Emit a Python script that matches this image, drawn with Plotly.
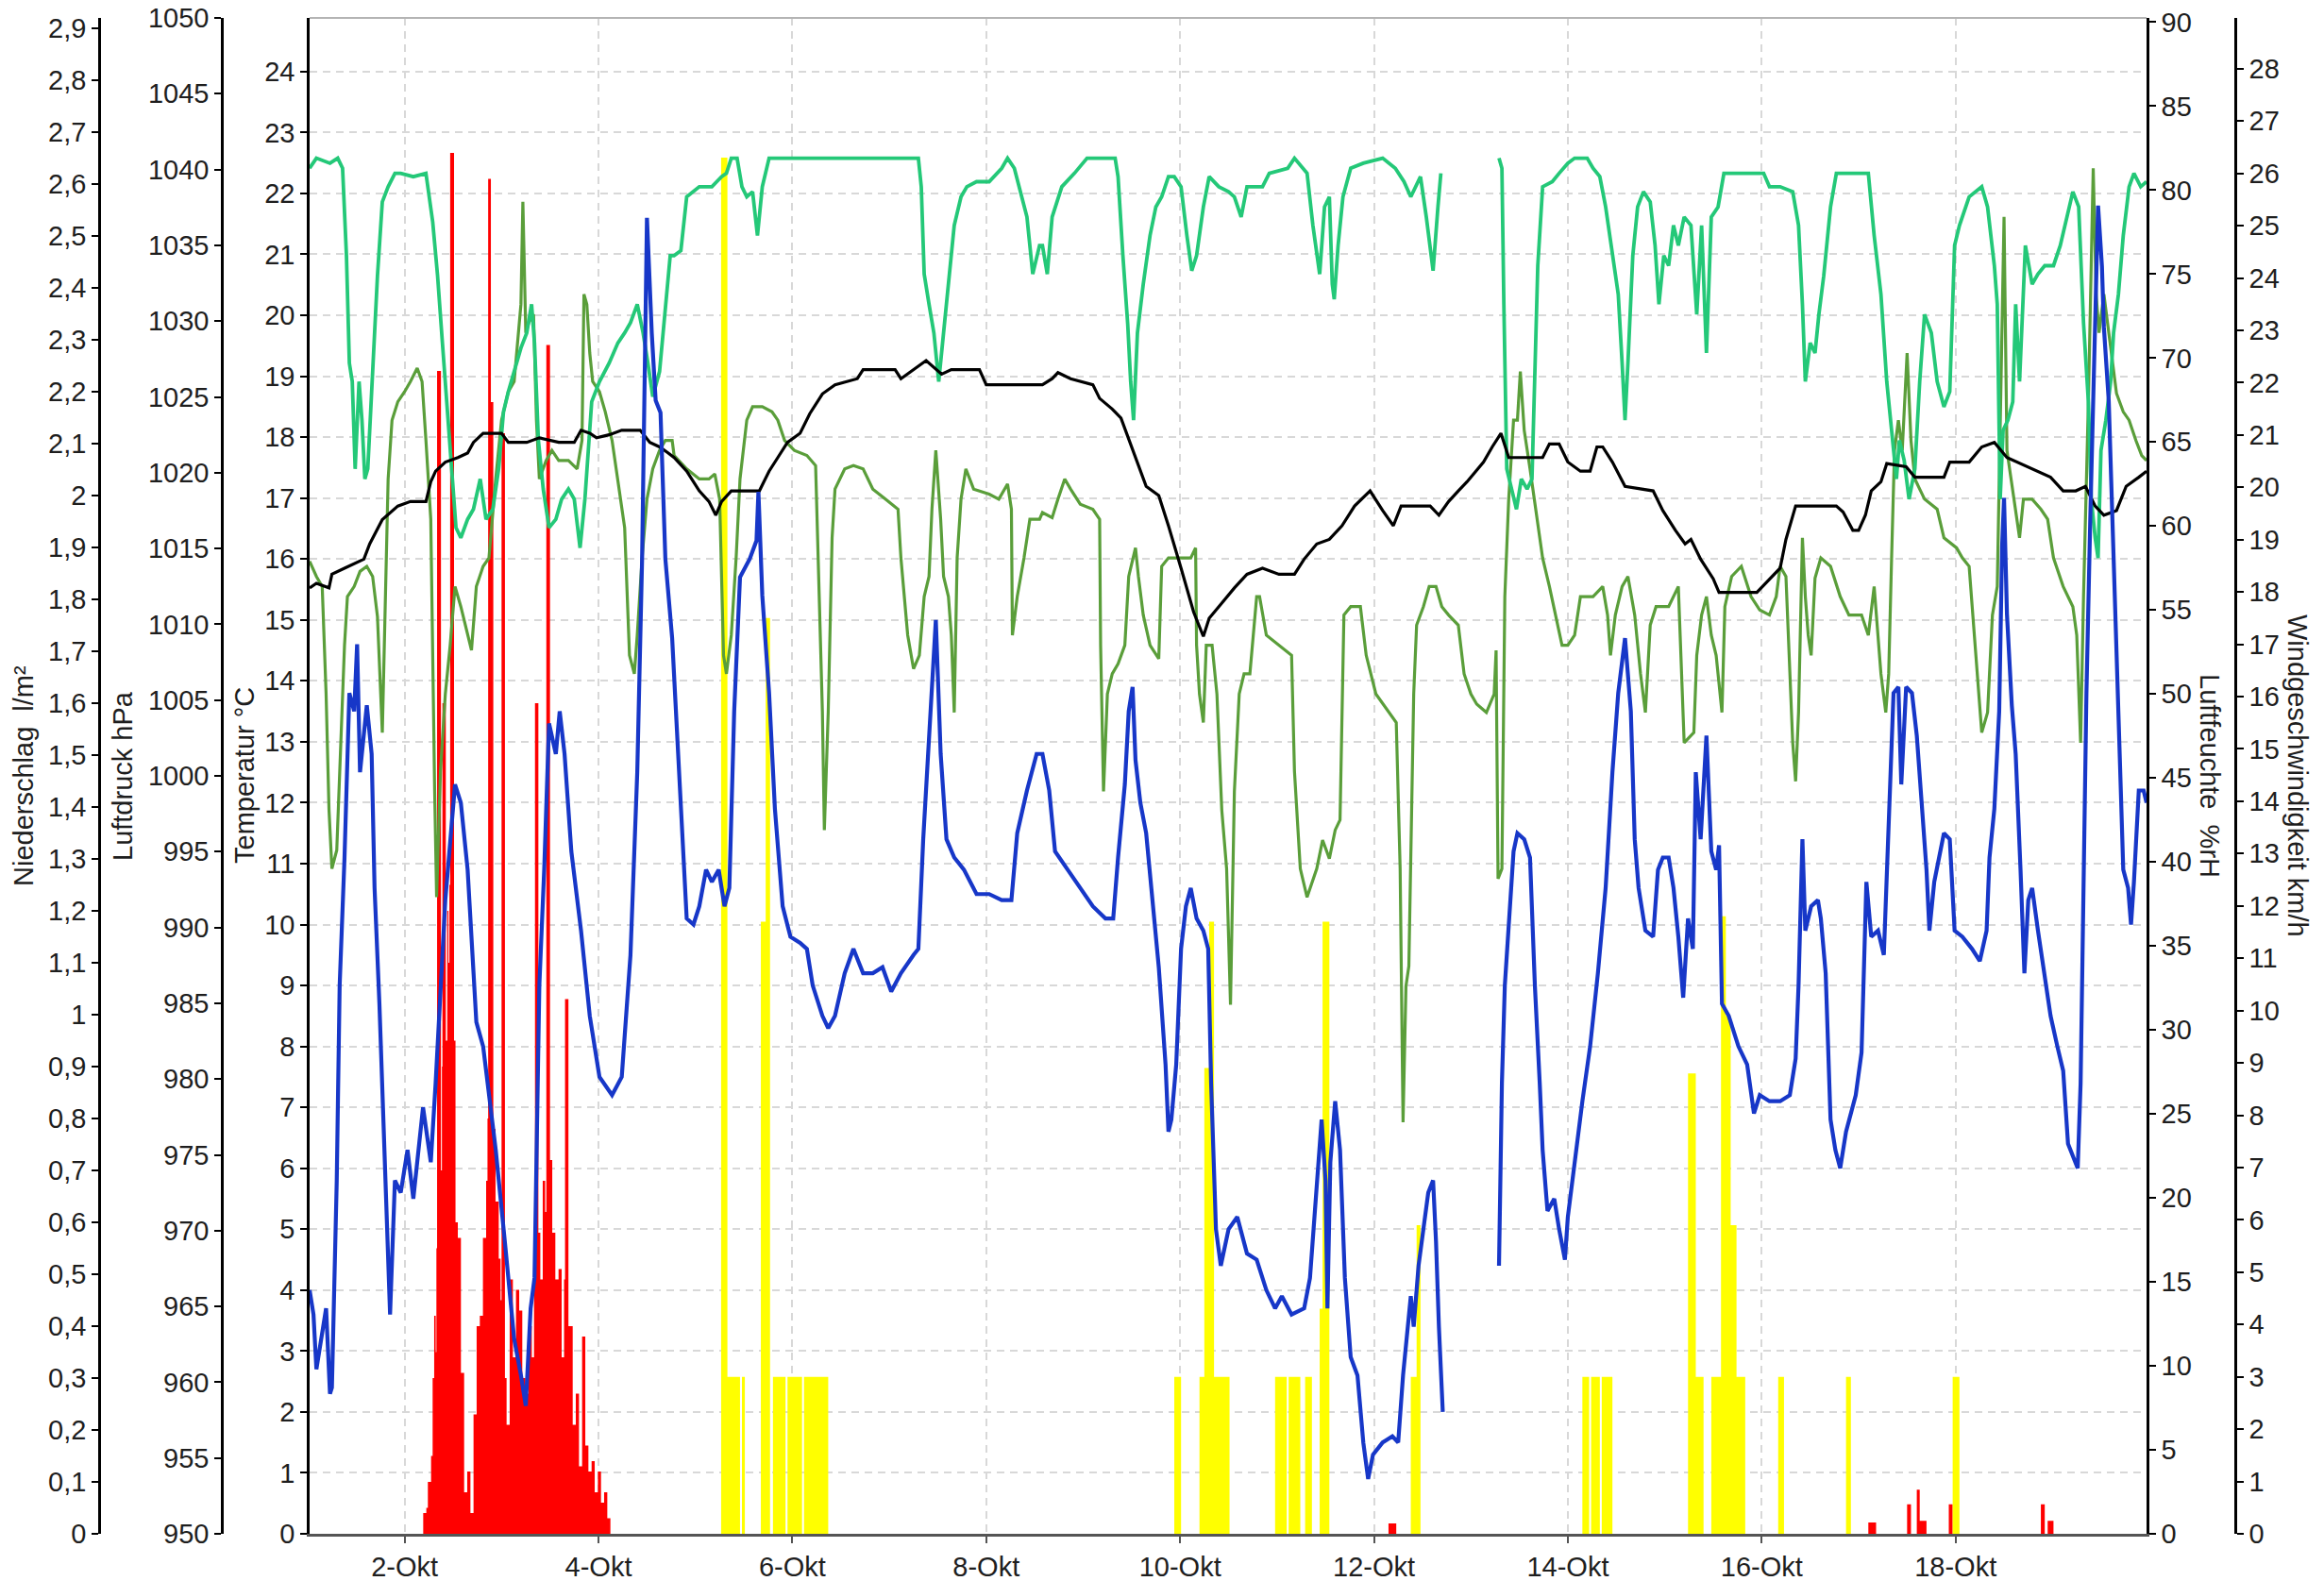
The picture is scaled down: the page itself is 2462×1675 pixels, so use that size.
import plotly.graph_objects as go
from datetime import datetime, timedelta

# ---------------- data (time = day of October, fractional) ----------------
temp_day = [1.02,1.06,1.09,1.19,1.23,1.25,1.30,1.33,1.38,1.43,1.48,1.51,1.54,1.61,1.66,1.69,1.74,1.79,1.85,1.90,1.96,
            2.03,2.09,2.19,2.27,2.32,2.42,2.52,2.58,2.65,2.74,2.81,2.87,2.94,3.04,3.13,3.20,3.25,3.30,3.34,3.39,3.44,
            3.49,3.56,3.60,3.65,3.72,3.82,3.91,4.01,4.14,4.24,4.33,4.40,4.45,4.50,4.55,4.59,4.64,4.69,4.76,
            4.78,4.85,4.91,4.98,5.04,5.11,5.17,5.24,5.30,5.35,5.40,5.46,5.56,5.63,5.65,5.69,5.76,5.82,5.90,5.98,
            6.08,6.15,6.21,6.31,6.37,6.44,6.54,6.63,6.73,6.83,6.93,7.02,7.12,7.25,7.30,7.35,7.41,7.48,7.53,7.59,
            7.67,7.77,7.90,8.03,8.16,8.26,8.32,8.42,8.52,
            8.58,8.65,8.71,8.84,8.97,9.10,9.23,9.31,9.36,9.43,9.47,9.51,9.54,9.59,9.65,9.72,9.78,9.85,9.88,9.91,
            9.96,10.01,10.06,10.11,10.17,10.24,10.29,10.32,10.37,10.42,10.50,10.59,10.69,10.79,10.89,10.98,11.05,
            11.15,11.28,11.34,11.41,11.46,11.50,11.52,11.55,11.60,11.65,11.70,11.76,11.83,11.89,11.94,11.99,12.09,
            12.19,12.25,12.30,
            12.38,12.41,12.46,12.51,12.56,12.61,12.64,12.67,12.71,13.0,
            13.29,13.32,13.35,13.39,13.44,13.48,13.55,13.61,13.66,13.71,13.74,13.79,13.86,13.91,13.97,14.00,14.07,
            14.15,14.23,14.31,14.39,14.46,14.52,14.59,14.65,14.69,14.73,14.80,14.88,14.93,14.98,15.04,15.09,15.14,
            15.19,15.24,15.29,15.32,15.37,15.43,15.48,15.53,15.56,15.59,15.66,15.76,15.85,15.92,15.98,16.08,16.15,
            16.19,16.29,16.35,16.38,16.42,16.45,16.51,16.58,16.61,16.66,16.71,16.76,16.81,16.87,16.97,17.03,17.08,
            17.13,17.20,17.26,17.31,17.36,17.41,17.44,17.49,17.55,17.60,17.65,17.70,17.73,17.78,17.83,17.88,17.94,
            17.99,18.07,18.17,18.25,18.32,18.35,18.40,18.45,18.48,18.50,18.53,18.58,18.62,18.67,18.71,18.75,18.79,
            18.85,18.92,18.98,19.05,19.11,19.16,19.21,19.26,19.29,19.32,19.35,19.39,19.44,19.47,19.51,19.53,19.58,
            19.63,19.68,19.73,19.78,19.81,19.84,19.89,19.94,19.97]
temp_val = [4.0,3.6,2.7,3.7,2.3,2.4,5.8,9.0,11.1,13.8,13.5,14.6,12.5,13.6,12.8,10.6,8.7,6.3,3.6,5.8,5.6,
            6.3,5.5,7.0,6.1,7.4,10.4,12.3,12.0,10.9,8.4,8.0,7.2,6.3,4.7,3.2,2.6,2.1,3.7,4.2,9.0,10.9,
            13.3,12.8,13.5,12.8,11.2,9.9,8.5,7.5,7.2,7.5,9.5,12.5,16.0,21.6,19.7,18.6,18.4,16.0,14.7,
            14.1,12.2,10.1,10.0,10.3,10.9,10.7,10.9,10.3,10.6,13.5,15.7,16.0,16.3,17.1,15.4,13.8,11.9,10.3,9.8,
            9.7,9.6,9.0,8.5,8.3,8.5,9.2,9.6,9.2,9.2,9.3,8.9,9.2,9.5,9.6,11.4,13.0,15.0,12.8,11.4,
            11.1,10.9,10.5,10.5,10.4,10.4,11.5,12.2,12.8,
            12.8,12.2,11.2,10.9,10.6,10.3,10.1,10.1,11.1,12.3,13.5,13.9,12.7,12.0,11.5,10.3,9.3,7.7,6.6,6.8,
            7.7,9.6,10.3,10.6,10.1,9.9,9.6,7.4,5.0,4.4,5.0,5.2,4.6,4.5,4.0,3.7,3.9,
            3.6,3.7,4.2,5.6,6.8,5.8,3.7,6.1,7.1,6.3,4.2,2.9,2.6,1.5,0.9,1.3,1.5,
            1.6,1.5,2.6,
            3.9,3.4,4.4,5.0,5.6,5.8,4.8,3.4,2.0,None,
            4.4,7.4,9.0,10.1,11.2,11.5,11.4,11.1,9.0,7.4,6.3,5.3,5.5,5.0,4.5,5.2,6.1,
            7.1,8.0,9.2,10.6,12.5,13.8,14.7,13.5,11.4,10.6,9.9,9.8,10.9,11.1,11.1,10.6,9.8,
            8.8,10.1,9.6,12.5,11.4,13.1,11.2,10.9,11.3,8.7,8.5,8.0,7.7,6.9,7.2,7.1,7.1,
            7.1,7.2,7.8,9.0,11.4,9.9,10.3,10.4,10.1,9.2,6.8,6.3,6.0,6.6,7.2,7.9,10.7,
            9.8,9.9,9.5,11.7,13.8,13.9,12.3,13.9,13.8,13.1,11.9,10.9,9.9,10.7,11.1,11.5,11.4,
            9.9,9.8,9.6,9.4,9.9,11.1,11.9,13.5,16.2,17.0,15.1,13.6,12.8,10.9,9.2,10.4,10.6,
            9.9,9.2,8.5,8.0,7.6,6.4,6.2,6.0,7.4,10.6,13.8,16.7,19.7,21.8,20.8,19.8,18.6,
            16.0,13.8,10.9,10.6,10.0,10.7,12.2,12.2,12.0]

press_day = [1.02,1.09,1.22,1.25,1.38,1.58,1.64,1.77,1.93,2.06,2.22,2.27,2.32,2.42,2.55,2.65,2.71,2.81,3.00,3.07,
             3.26,3.39,3.59,3.75,3.82,3.91,3.98,4.11,4.24,4.43,4.53,4.63,4.72,4.78,4.91,5.04,5.14,5.21,5.27,5.37,
             5.66,5.76,5.85,5.95,6.08,6.18,6.31,6.44,6.67,6.73,7.06,7.12,7.38,7.48,7.54,7.64,7.93,8.00,8.35,8.58,
             8.68,8.74,8.87,9.10,9.17,9.30,9.39,9.52,9.65,9.78,9.88,10.01,10.14,10.24,10.30,10.43,10.56,10.69,
             10.85,11.02,11.18,11.28,11.41,11.54,11.67,11.80,11.96,12.09,12.20,12.28,12.38,12.58,12.67,12.77,
             12.87,12.96,13.13,13.22,13.31,13.39,13.74,13.81,13.91,14.00,14.13,14.23,14.30,14.36,14.46,14.59,
             14.88,14.98,15.11,15.21,15.27,15.37,15.50,15.56,15.95,16.08,16.19,16.25,16.35,16.77,16.84,16.94,
             17.00,17.07,17.13,17.23,17.29,17.49,17.58,17.88,17.94,18.14,18.27,18.40,18.53,18.98,19.11,19.24,
             19.34,19.44,19.53,19.66,19.76,19.89,19.97]
press_val = [1012.4,1012.7,1012.4,1013.3,1013.7,1014.3,1015.3,1016.9,1017.8,1018.1,1018.1,1019.4,1020.1,1020.7,
             1021.0,1021.3,1022.0,1022.6,1022.6,1022.0,1022.0,1022.3,1022.0,1022.0,1022.8,1022.6,1022.3,1022.5,
             1022.8,1022.8,1022.0,1021.7,1021.3,1021.0,1020.1,1018.8,1018.1,1017.2,1018.1,1018.8,1018.8,1020.1,
             1021.0,1022.0,1022.6,1023.9,1025.2,1025.8,1026.2,1026.8,1026.8,1026.2,1027.4,1026.8,1026.5,1026.8,
             1026.8,1025.8,1025.8,1025.8,1026.2,1026.6,1026.2,1025.8,1024.9,1024.2,1023.6,1021.3,1019.1,1018.5,
             1016.5,1013.7,1010.8,1009.2,1010.4,1011.4,1012.4,1013.3,1013.7,1013.3,1013.3,1014.3,1015.3,1015.6,
             1016.5,1017.8,1018.8,1017.5,1016.5,1017.8,1017.8,1017.8,1017.2,1018.1,1018.8,1019.4,1020.7,1021.7,
             1022.6,1021.0,1021.0,1021.9,1021.9,1020.7,1020.1,1020.1,1021.7,1021.7,1020.7,1019.1,1018.8,1017.5,
             1016.2,1015.3,1015.6,1014.3,1013.0,1012.1,1012.1,1013.0,1013.7,1015.6,1017.8,1017.8,1017.4,1016.2,
             1016.2,1017.2,1018.8,1019.4,1020.6,1020.4,1019.7,1019.7,1020.7,1020.7,1021.7,1022.0,1021.0,1019.7,
             1018.8,1018.8,1019.1,1017.8,1017.2,1017.5,1019.1,1019.7,1020.1]

hum_day = [1.02,1.09,1.23,1.31,1.36,1.40,1.43,1.46,1.49,1.53,1.56,1.59,1.62,1.67,1.72,1.77,1.83,1.90,1.96,2.09,
           2.22,2.29,2.34,2.39,2.44,2.48,2.53,2.58,2.65,2.71,2.78,2.84,2.91,2.97,3.02,3.07,3.13,3.20,3.26,3.31,
           3.34,3.38,3.43,3.49,3.56,3.62,3.69,3.75,3.81,3.86,3.93,4.01,4.11,4.20,4.27,4.33,4.40,4.46,4.51,4.56,
           4.63,4.69,4.74,
           4.78,4.85,4.91,5.04,5.17,5.27,5.32,5.37,5.43,5.48,5.53,5.59,5.64,5.69,5.76,7.30,7.33,7.36,7.41,7.46,
           7.51,7.56,7.61,7.67,7.74,7.80,7.90,8.03,8.16,8.22,8.29,8.35,8.42,8.48,8.55,
           8.58,8.63,8.68,8.78,8.91,9.04,9.33,9.36,9.41,9.46,9.49,9.52,9.56,9.62,9.69,9.75,9.81,9.88,9.94,10.01,
           10.07,10.12,10.17,10.24,10.30,10.40,10.50,10.56,10.63,10.69,10.85,10.92,11.11,11.18,11.31,11.37,11.44,
           11.49,11.54,11.57,11.59,11.63,11.68,11.76,11.89,12.09,12.22,12.31,12.38,
           12.48,12.54,12.61,12.66,12.69,13.0,
           13.29,13.32,13.34,13.37,13.42,13.47,13.52,13.58,13.63,13.66,13.69,13.74,13.84,13.91,14.00,14.07,14.20,
           14.26,14.33,14.39,14.46,14.52,14.56,14.59,14.62,14.67,14.72,14.78,14.85,14.90,14.94,14.99,15.04,15.09,
           15.14,15.20,15.27,15.33,15.38,15.43,15.48,15.55,15.61,15.79,16.02,16.08,
           16.19,16.32,16.38,16.42,16.45,16.50,16.55,16.59,16.64,16.71,16.77,17.10,17.16,17.23,17.29,17.34,17.39,
           17.42,17.47,17.52,17.58,17.63,17.68,17.75,17.81,17.88,17.94,17.99,18.04,18.14,18.27,18.33,18.40,18.43,
           18.46,18.49,18.54,18.59,18.62,18.66,18.72,18.79,18.85,18.92,19.01,19.08,19.14,19.21,19.27,19.32,19.37,
           19.40,19.44,19.47,19.50,19.55,19.60,19.63,19.68,19.73,19.79,19.84,19.91,19.97]
hum_val = [81.3,81.9,81.6,81.9,81.3,76.1,69.7,68.6,63.4,68.6,66.3,62.8,63.4,69.7,74.9,79.3,80.2,81.0,81.0,80.8,
           81.0,78.1,74.9,70.9,66.8,63.4,59.9,59.3,60.4,61.0,62.8,60.4,61.0,63.4,66.8,68.0,69.2,70.6,71.5,73.2,
           70.9,65.1,62.2,59.9,60.4,61.6,62.2,61.6,58.7,61.6,67.4,68.6,69.7,70.9,71.5,72.1,73.2,71.5,69.7,67.7,
           69.2,73.2,76.1,
           76.1,76.4,79.6,80.2,80.2,80.8,81.0,81.9,81.9,80.2,79.6,79.9,77.3,80.2,81.9,81.9,80.2,75.0,73.2,71.5,
           68.6,71.5,74.4,77.9,79.6,80.2,80.5,80.5,81.3,81.9,81.3,79.9,78.4,75.0,76.7,
           76.7,75.0,78.4,80.2,81.0,81.9,81.9,80.8,76.1,72.0,68.6,66.3,71.5,74.4,77.3,79.0,79.6,80.8,80.8,80.2,
           77.3,75.2,76.1,79.0,80.8,80.2,79.9,79.6,78.4,80.2,80.2,81.0,81.3,81.9,81.0,77.9,75.0,
           79.0,79.6,74.4,73.5,76.7,79.6,81.3,81.6,81.9,81.3,80.5,79.6,
           80.8,78.4,75.2,79.0,81.0,None,
           81.9,81.3,73.2,63.4,62.2,61.0,62.8,62.2,62.8,68.6,75.5,80.2,80.5,81.0,81.6,81.9,81.9,
           81.3,80.8,79.0,76.1,73.8,69.7,66.3,69.7,76.1,79.0,79.9,79.3,76.7,73.2,76.1,75.5,77.9,
           76.7,78.4,77.9,72.6,77.9,70.3,78.4,79.0,81.0,81.0,81.0,80.2,
           80.2,79.9,77.9,73.2,68.6,70.9,70.3,72.6,74.9,79.0,81.0,81.0,77.3,73.8,68.6,65.7,62.8,
           65.1,63.9,61.6,63.4,68.6,72.6,71.5,68.6,67.1,68.0,76.7,77.9,79.6,80.2,79.0,75.5,73.2,
           61.6,65.7,66.3,67.4,73.2,68.6,76.7,74.4,75.0,75.5,75.5,76.7,78.1,79.9,79.0,72.1,67.4,
           61.6,59.3,58.1,64.5,66.3,68.6,71.5,73.8,77.3,80.2,81.0,80.2,80.5]

hum2_day = [1.02,1.09,1.15,1.19,1.22,1.25,1.30,1.33,1.38,1.41,1.48,1.54,1.61,1.67,1.72,1.77,1.80,1.83,1.87,1.93,
            2.00,2.06,2.13,2.18,2.22,2.27,2.31,2.33,2.37,2.42,2.47,2.52,2.58,2.65,2.69,2.74,2.81,2.87,2.94,3.00,
            3.07,3.13,3.20,3.22,3.25,3.28,3.33,3.36,3.39,3.46,3.52,3.59,3.69,3.78,3.83,3.85,3.88,3.91,3.94,4.01,
            4.07,4.14,4.20,4.27,4.32,4.37,4.40,4.45,4.50,4.56,4.63,4.69,4.76,
            4.78,4.91,5.04,5.14,5.20,5.25,5.29,5.32,5.37,5.42,5.46,5.53,5.59,5.69,5.79,5.85,5.92,6.02,6.15,6.24,
            6.28,6.31,6.33,6.37,6.41,6.44,6.54,6.63,6.73,6.83,6.96,7.09,7.12,7.19,7.25,7.31,7.36,7.41,7.44,7.48,
            7.53,7.56,7.61,7.64,7.67,7.70,7.74,7.79,7.87,8.03,8.13,8.22,8.26,8.27,8.32,8.39,8.45,8.55,
            8.58,8.68,8.74,8.81,8.87,8.97,9.10,9.17,9.18,9.21,9.25,9.30,9.36,9.43,9.47,9.54,9.57,9.62,9.69,9.78,
            9.81,9.88,10.01,10.11,10.16,10.17,10.20,10.24,10.27,10.33,10.38,10.43,10.48,10.52,10.56,10.61,10.66,
            10.72,10.79,10.82,10.89,11.02,11.15,11.18,11.24,11.31,11.41,11.47,11.54,11.60,11.65,11.69,11.76,11.86,
            11.92,12.02,12.15,12.23,12.27,12.30,12.33,12.36,
            12.41,12.44,12.51,12.57,12.64,12.70,12.77,12.87,12.93,13.00,13.06,13.16,13.24,13.26,13.28,13.32,13.35,
            13.39,13.44,13.48,13.51,13.55,13.61,13.68,13.74,13.81,13.87,13.94,14.00,14.07,14.13,14.26,14.36,14.41,
            14.44,14.49,14.56,14.62,14.69,14.75,14.80,14.85,14.91,15.04,15.14,15.18,15.20,15.30,15.33,15.38,15.43,
            15.48,15.53,15.59,15.62,15.69,15.79,15.89,15.98,16.08,16.15,
            16.19,16.25,16.32,16.35,16.38,16.42,16.45,16.48,16.51,16.55,16.61,16.71,16.81,16.90,17.03,17.10,17.16,
            17.23,17.28,17.31,17.34,17.37,17.41,17.45,17.50,17.54,17.58,17.68,17.81,17.88,18.01,18.07,18.14,18.20,
            18.27,18.33,18.38,18.43,18.48,18.50,18.53,18.59,18.66,18.70,18.79,18.88,18.95,19.01,19.11,19.21,19.25,
            19.29,19.32,19.37,19.42,19.45,19.48,19.53,19.58,19.66,19.73,19.79,19.86,19.92,19.97]
hum2_val = [57.9,57.0,56.4,50.0,43.1,39.6,40.7,45.4,52.9,55.8,56.4,57.3,57.6,57.0,54.6,47.7,54.6,62.8,66.3,67.4,
            68.0,68.6,69.4,68.6,65.1,60.4,44.2,37.9,45.4,50.0,52.9,56.4,55.2,53.5,52.6,56.4,57.6,58.1,62.8,66.3,
            68.0,68.6,73.2,79.3,71.5,72.1,72.6,66.3,62.8,63.9,64.5,63.9,63.9,63.4,65.1,73.8,73.2,70.3,68.6,68.0,
            66.8,65.1,62.8,59.9,52.3,51.2,53.5,58.1,61.6,63.4,64.5,65.1,65.1,
            64.2,63.4,62.8,62.8,63.1,61.6,52.3,51.2,53.5,58.1,62.8,66.3,67.1,67.1,66.8,66.3,65.1,64.5,64.2,63.6,
            55.8,48.9,41.9,48.9,59.3,62.2,63.4,63.6,63.4,62.2,61.6,61.0,58.1,53.5,51.5,52.3,55.8,57.0,61.0,64.5,
            60.4,57.0,55.8,53.5,48.9,58.1,61.6,63.4,62.2,61.9,61.6,62.5,61.0,53.5,55.8,58.1,60.4,60.4,
            60.8,60.5,61.6,62.8,62.2,61.3,61.0,60.4,52.9,44.2,50.0,51.2,51.8,52.9,57.0,58.7,57.0,54.7,52.9,52.1,
            57.6,58.1,58.1,58.1,58.7,52.9,50.0,48.3,52.9,52.9,50.0,43.1,39.6,31.5,44.2,50.0,51.2,
            51.2,55.8,55.8,53.5,52.9,52.3,45.4,39.6,37.9,39.6,41.3,40.2,41.9,42.5,54.7,55.2,55.2,
            52.3,50.0,48.9,48.3,39.6,24.5,32.6,33.8,
            50.0,54.1,55.2,56.4,56.4,55.2,54.7,54.1,51.2,50.0,49.4,48.9,50.0,52.6,39.0,39.6,55.8,
            61.6,66.3,66.3,69.2,65.7,63.4,60.5,58.1,56.4,54.7,52.9,52.9,53.5,55.8,55.8,56.4,54.7,
            52.3,54.7,56.4,57.0,54.7,51.2,48.9,54.1,55.2,55.2,56.4,50.6,47.1,47.7,52.3,54.7,55.8,
            53.5,52.3,48.9,55.2,57.0,57.6,55.8,55.0,54.7,55.8,
            57.6,57.0,47.1,44.8,48.9,59.3,55.8,53.5,52.3,56.9,58.1,57.6,55.8,54.7,54.7,53.5,56.4,
            51.2,48.9,51.2,58.1,64.5,66.3,64.5,70.3,65.1,62.8,61.6,61.0,59.3,58.7,58.1,57.6,52.9,
            47.7,48.9,54.7,56.4,73.2,78.4,64.5,62.2,59.3,61.6,61.6,61.0,60.4,58.1,56.4,55.2,53.5,
            47.1,55.8,67.4,81.3,73.8,71.5,73.8,71.5,67.9,66.8,66.3,65.1,64.2,63.9]

rain_day = [2.185,2.192,2.224,2.240,2.273,2.289,2.305,2.321,2.328,2.335,2.375,2.385,2.390,2.425,2.440,2.452,2.462,
            2.470,2.510,2.525,2.549,2.581,2.614,2.646,2.679,2.711,2.743,2.776,2.808,2.841,2.855,2.862,2.890,2.915,
            2.938,2.971,2.990,3.000,3.035,3.052,3.084,3.117,3.149,3.182,3.214,3.247,3.279,3.312,3.335,3.345,3.380,
            3.400,3.425,3.450,3.462,3.500,3.523,3.555,3.588,3.620,3.645,3.655,3.690,3.734,3.766,3.799,3.831,3.864,
            3.896,3.929,3.961,3.994,4.026,4.058,4.091,4.123]
rain_val = [0,0.04,0.05,0.10,0.15,0.30,0.42,0.35,0.55,2.24,0.70,0.90,1.60,0.95,1.20,1.10,1.25,
            2.66,0.95,0.60,0.57,0.31,0.08,0.12,0.04,0.23,0.40,0.42,0.57,0.68,0.80,2.61,2.18,0.78,
            0.64,0.53,0.45,2.12,0.30,0.21,0.49,0.34,0.47,0.43,0.30,0.27,0.40,0.34,0.55,1.60,0.58,
            0.49,0.68,0.62,2.29,0.72,0.58,0.49,0.51,0.34,0.49,1.03,0.40,0.21,0.27,0.13,0.38,0.17,
            0.12,0.14,0.08,0.12,0.06,0.08,0.03,0]

rain_bar_start = [12.15,15.62,17.10,17.50,17.60,17.63,17.93,18.88,18.95]
rain_bar_end   = [12.23,15.66,17.18,17.54,17.63,17.70,17.97,18.92,19.01]
rain_bar_val   = [0.02,0.025,0.022,0.057,0.085,0.025,0.057,0.057,0.025]

wind_start = [5.265,5.33,5.48,5.675,5.725,5.80,5.95,6.12,9.94,10.20,10.25,10.30,10.35,10.98,11.12,11.29,11.44,
              11.47,12.38,12.44,14.15,14.24,14.35,15.24,15.32,15.48,15.58,15.63,15.68,15.74,16.17,16.87,17.97]
wind_end   = [5.33,5.46,5.51,5.725,5.77,5.93,6.10,6.37,10.01,10.25,10.30,10.35,10.51,11.10,11.24,11.36,11.47,
              11.54,12.44,12.48,14.22,14.33,14.46,15.32,15.40,15.58,15.63,15.68,15.74,15.83,16.23,16.92,18.04]
wind_val   = [26.3,3.0,3.0,11.7,17.5,3.0,3.0,3.0,3.0,3.0,8.9,11.7,3.0,3.0,3.0,3.0,4.3,
              11.7,3.0,5.9,3.0,3.0,3.0,8.8,3.0,3.0,11.8,9.9,5.9,3.0,3.0,3.0,3.0]

tick_days = [2, 4, 6, 8, 10, 12, 14, 16, 18]
tick_labels = ["2-Okt", "4-Okt", "6-Okt", "8-Okt", "10-Okt", "12-Okt", "14-Okt", "16-Okt", "18-Okt"]

# ---------------- helpers ----------------
BASE = datetime(2023, 10, 1)


def to_time(days):
    return [BASE + timedelta(days=d - 1) for d in days]


def step_series(starts, ends, vals):
    xs, ys = [starts[0]], [0]
    for s, e, v in zip(starts, ends, vals):
        xs += [s, e]
        ys += [v, 0]
    return to_time(xs), ys


W, H = 2462, 1675
L_PLOT, R_PLOT, T_PLOT, B_PLOT = 328, 2274, 19, 1625
FONT = "Liberation Sans, Arial, sans-serif"
TXT = "#1e1e1e"
GRID = "#d8d8d8"

fig = go.Figure()

# rain (main axis y) - bottom layer
fig.add_trace(go.Scatter(x=to_time(rain_day), y=rain_val, mode="lines", line=dict(color="#ff0000", width=0, shape="hv"),
                         fill="tozeroy", fillcolor="#ff0000", yaxis="y", name="Niederschlag"))
rx, ry = step_series(rain_bar_start, rain_bar_end, rain_bar_val)
fig.add_trace(go.Scatter(x=rx, y=ry, mode="lines", line=dict(color="#ff0000", width=0, shape="hv"),
                         fill="tozeroy", fillcolor="#ff0000", yaxis="y", name="Niederschlag"))
# wind (y2)
wx, wy = step_series(wind_start, wind_end, wind_val)
fig.add_trace(go.Scatter(x=wx, y=wy, mode="lines", line=dict(color="#ffff00", width=0, shape="hv"),
                         fill="tozeroy", fillcolor="#ffff00", yaxis="y2", name="Wind"))
# humidity (y3)
fig.add_trace(go.Scatter(x=to_time(hum2_day), y=hum2_val, mode="lines", line=dict(color="#5a9e3a", width=3.2),
                         yaxis="y3", name="Luftfeuchte 2"))
fig.add_trace(go.Scatter(x=to_time(hum_day), y=hum_val, mode="lines", line=dict(color="#24c878", width=3.8),
                         yaxis="y3", name="Luftfeuchte", connectgaps=False))
# pressure (y4)
fig.add_trace(go.Scatter(x=to_time(press_day), y=press_val, mode="lines", line=dict(color="#000000", width=3.2),
                         yaxis="y4", name="Luftdruck"))
# temperature (y5) - top
fig.add_trace(go.Scatter(x=to_time(temp_day), y=temp_val, mode="lines", line=dict(color="#1737c8", width=4.2),
                         yaxis="y5", name="Temperatur", connectgaps=False))

tickfont = dict(family=FONT, size=29, color=TXT)
common = dict(showline=True, linecolor="#000000", linewidth=2.5, ticks="outside", ticklen=7, tickwidth=2,
              tickcolor="#000000", tickfont=tickfont, zeroline=False, showgrid=False, automargin=False)

xd0, xd1 = L_PLOT / W, R_PLOT / W
fig.update_layout(
    width=W, height=H,
    margin=dict(l=0, r=0, t=T_PLOT, b=H - B_PLOT, pad=0),
    paper_bgcolor="white", plot_bgcolor="white",
    showlegend=False,
    separators=",.",
    xaxis=dict(domain=[xd0, xd1], anchor="y", type="date",
               range=to_time([1.02, 19.97]),
               tickvals=to_time(tick_days), ticktext=tick_labels,
               showline=True, linecolor="#555555", linewidth=2.5, ticks="outside", ticklen=7, tickwidth=2,
               tickcolor="#555555", tickfont=tickfont, showgrid=True, gridcolor=GRID, gridwidth=1.5,
               griddash="8px,6px", zeroline=False, automargin=False),
    yaxis=dict(range=[0, 2.92], anchor="free", position=105 / W, side="left", tick0=0, dtick=0.1, **common),
    yaxis2=dict(range=[0, 28.97], overlaying="y", anchor="free", position=2368 / W, side="right",
                tick0=0, dtick=1, **common),
    yaxis3=dict(range=[0, 90.25], overlaying="y", anchor="x", side="right", tick0=0, dtick=5, **common),
    yaxis4=dict(range=[950, 1050], overlaying="y", anchor="free", position=235 / W, side="left",
                tick0=950, dtick=5, **common),
    yaxis5=dict(range=[0, 24.88], overlaying="y", anchor="x", side="left", tick0=0, dtick=1,
                **{**common, "showgrid": True, "gridcolor": GRID, "gridwidth": 1.5, "griddash": "8px,6px"}),
)

# frame top line
fig.add_shape(type="line", xref="paper", yref="paper", x0=xd0, x1=xd1, y0=1, y1=1,
              line=dict(color="#b4b4b4", width=2))

titles = [("Niederschlag\u00a0 l/m²", 25, -90), ("Luftdruck hPa", 130, -90), ("Temperatur °C", 259, -90),
          ("Luftfeuchte\u00a0 %rH", 2341, 90), ("Windgeschwindigkeit km/h", 2434, 90)]
for txt, px, ang in titles:
    fig.add_annotation(text=txt, xref="paper", yref="paper", x=px / W, y=0.5, showarrow=False,
                       textangle=ang, font=dict(family=FONT, size=29, color=TXT), xanchor="center", yanchor="middle")

fig.write_html("out.html", config={"displayModeBar": False},
               post_script="document.body.style.margin='0';document.body.style.overflow='hidden';")
